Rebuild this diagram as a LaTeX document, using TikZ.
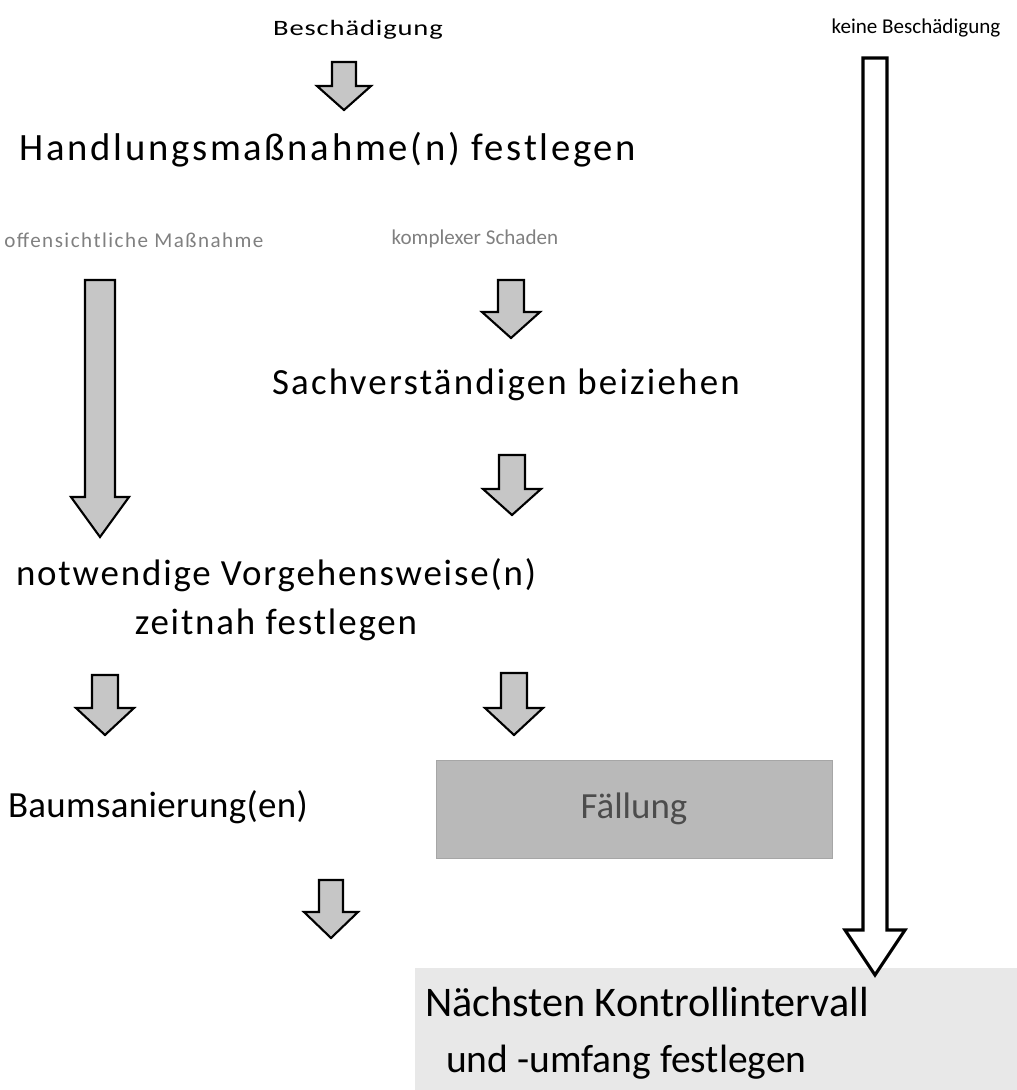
\documentclass[tikz,border=0pt]{standalone}
\usepackage{fontspec}
\setmainfont{Carlito}
%% Blockpfeil: [Stil]{x}{oben}{Spitze}{Schaft}{Kopfbreite}{Kopflaenge}
\newcommand{\blockarrow}[7][]{%
	\draw[#1] ({#2-#5},#3) -- ({#2+#5},#3) -- ({#2+#5},{#4-#7}) -- ({#2+#6},{#4-#7})
	-- (#2,#4) -- ({#2-#6},{#4-#7}) -- ({#2-#5},{#4-#7}) -- cycle;}
\begin{document}
\begin{tikzpicture}[x=0.02cm, y=-0.02cm, line join=miter,
	big/.style={font=\fontsize{21}{28}\selectfont\addfontfeatures{LetterSpace=6}, inner sep=0pt},
	small/.style={font=\fontsize{12}{14}\selectfont, inner sep=0pt},
	faded/.style={small, text=black!50},
	grayarrow/.style={draw=black, line width=1.2pt, fill=gray!45},
	whitearrow/.style={draw=black, line width=1.8pt, fill=white}]
	%% Rahmen
	\useasboundingbox (0,0) rectangle (1017,1090);
	%% Kasten unten
	\node[fill=gray!18, inner sep=0pt, minimum width=12.04cm, minimum height=2.44cm] (nextbox) at (716,1029) {};
	%% Texte
	\node[small, font=\fontsize{12.5}{14}\selectfont\addfontfeatures{LetterSpace=3}] (dmg) at (358,30) {\scalebox{1.3}[1]{Beschädigung}};
	\node[small] (nodmg) at (916,28) {keine Beschädigung};
	\node[big, font=\fontsize{22}{28}\selectfont\addfontfeatures{LetterSpace=7}] (act) at (328,150) {Handlungsmaßnahme(n) festlegen};
	\node[faded, font=\fontsize{12}{14}\selectfont\addfontfeatures{LetterSpace=7}] (obv) at (134,240) {offensichtliche Maßnahme};
	\node[faded] (cplx) at (475,239) {komplexer Schaden};
	\node[big] (exp) at (506,385) {Sachverständigen beiziehen};
	\node[big, font=\fontsize{21}{28}\selectfont\addfontfeatures{LetterSpace=5}, align=center] (proc) at (276,600)
		{notwendige Vorgehensweise(n)\\zeitnah festlegen};
	\node[big, font=\fontsize{21}{28}\selectfont\addfontfeatures{LetterSpace=1}] (rep) at (158,807) {Baumsanierung(en)};
	\node[fill=gray!55, draw=gray!70, inner sep=0pt, minimum width=7.92cm, minimum height=1.96cm,
		font=\fontsize{21}{28}\selectfont, text=black!70] (fell) at (634,809) {Fällung};
	\node[font=\fontsize{24}{32}\selectfont, align=left, inner sep=0pt] (next) at (647,1033)
		{Nächsten Kontrollintervall\\\hspace{0.5em}{\fontsize{22.5}{32}\selectfont und -umfang festlegen}};
	%% Pfeile
	\blockarrow[grayarrow]{344}{62}{110}{12}{27}{24}
	\blockarrow[grayarrow]{100}{280}{537}{15}{29}{40}
	\blockarrow[grayarrow]{511}{280}{338}{13}{29}{26}
	\blockarrow[grayarrow]{512}{455}{515}{13}{29}{26}
	\blockarrow[grayarrow]{105}{675}{735}{13}{29}{27}
	\blockarrow[grayarrow]{514}{673}{735}{13}{29}{27}
	\blockarrow[grayarrow]{331}{880}{938}{12}{27}{26}
	\blockarrow[whitearrow]{875}{58}{975}{12}{30}{45}
\end{tikzpicture}
\end{document}
